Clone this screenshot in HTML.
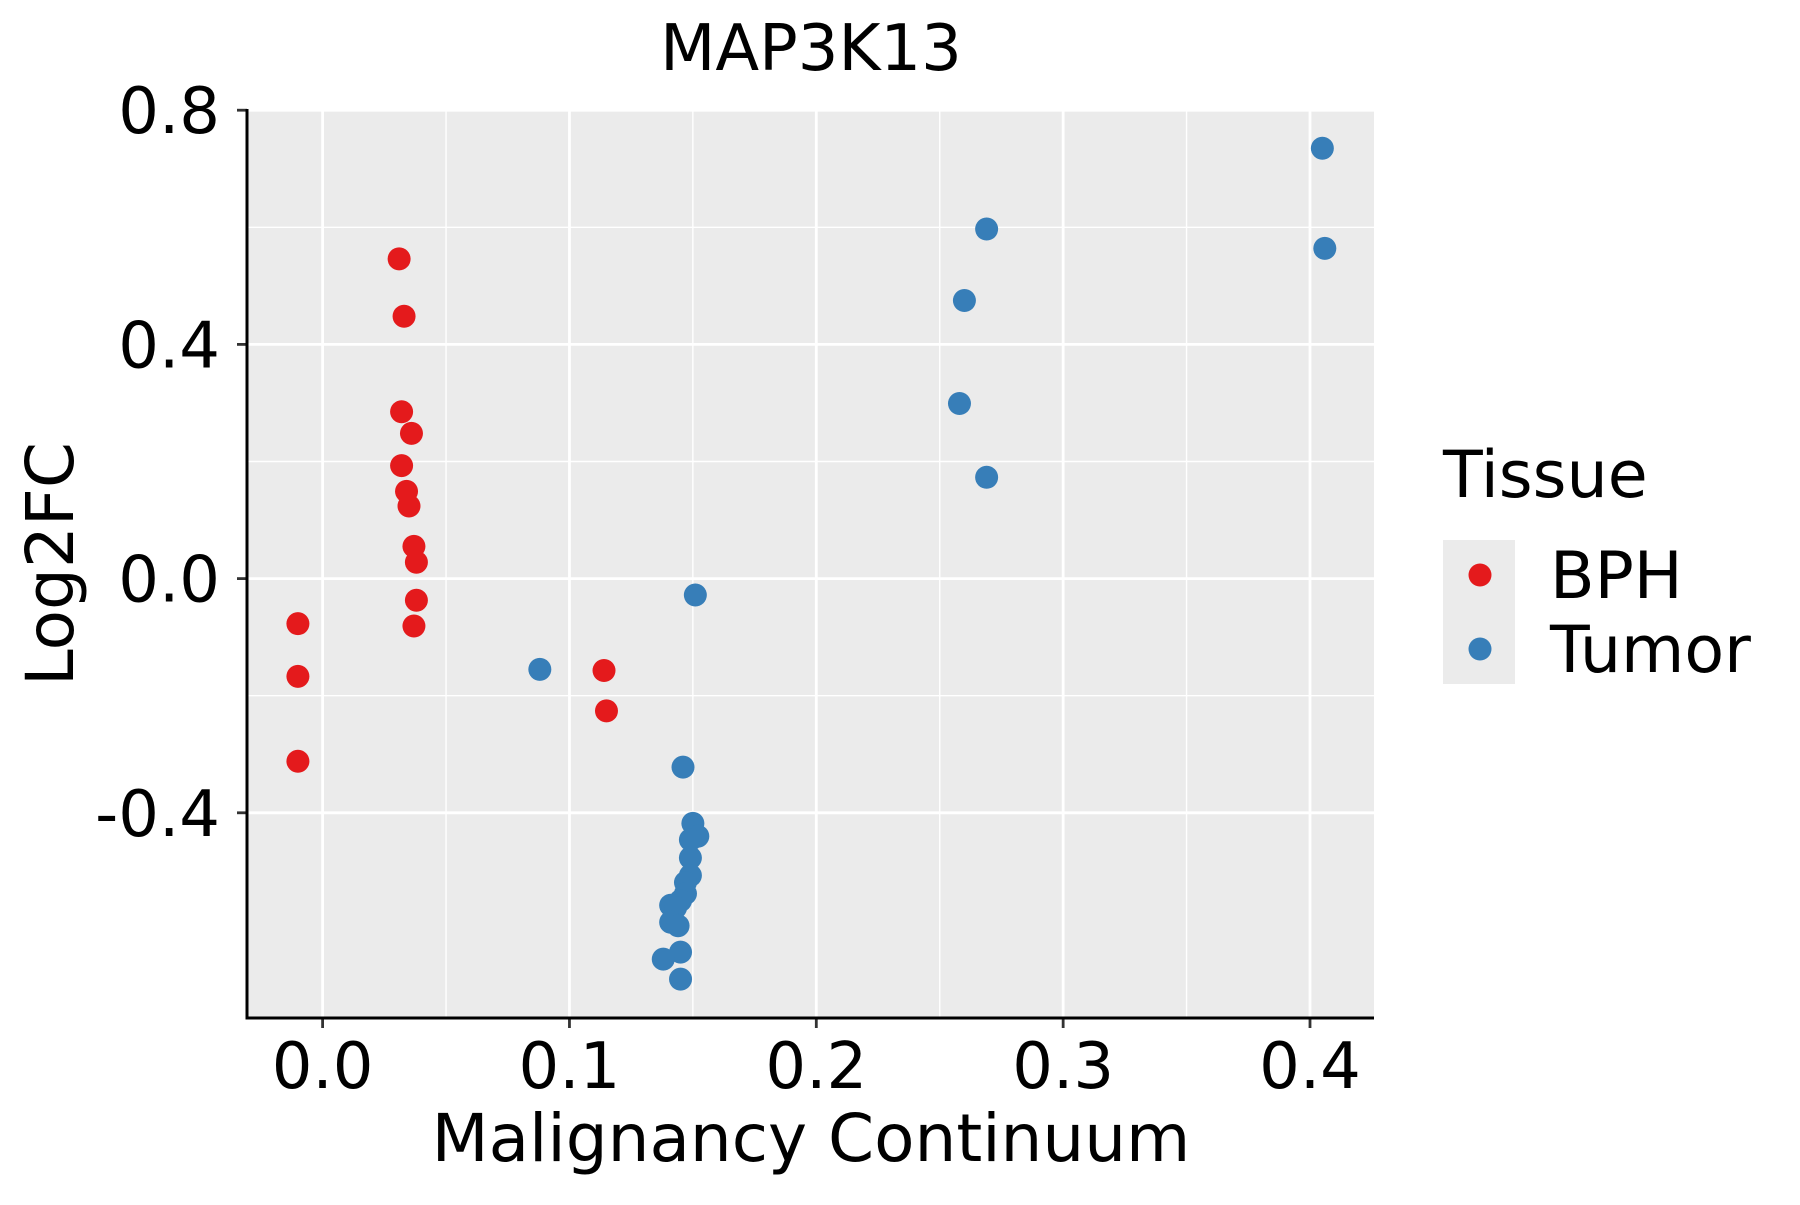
<!DOCTYPE html>
<html><head><meta charset="utf-8"><style>
body{margin:0;background:#fff}
svg text{font-family:"DejaVu Sans","Liberation Sans",sans-serif;fill:#000}
</style></head><body>
<svg id="chart" width="1800" height="1200" xmlns="http://www.w3.org/2000/svg">
<rect x="247" y="109" width="1127" height="909" fill="#ebebeb"/>
<g id="grid"></g><g id="pts"></g><g id="axes"></g>
<text x="811" y="70" font-size="64" text-anchor="middle">MAP3K13</text>
<text x="811" y="1161" font-size="66" text-anchor="middle">Malignancy Continuum</text>
<text transform="translate(73,564) rotate(-90)" font-size="66" text-anchor="middle">Log2FC</text>
<g>
<text x="1443" y="497" font-size="65">Tissue</text>
<rect x="1443" y="540" width="72" height="144" fill="#ebebeb"/>
<circle cx="1480" cy="575" r="11.5" fill="#e41a1c"/>
<circle cx="1480" cy="649" r="11.5" fill="#377eb8"/>
<text x="1550" y="598" font-size="65">BPH</text>
<text x="1550" y="672" font-size="65">Tumor</text>
</g>
</svg>
<script>
const xTicks=[0.0,0.1,0.2,0.3,0.4];
const xTickLabels=["0.0","0.1","0.2","0.3","0.4"];
const yTicks=[-0.4,0.0,0.4,0.8];
const yTickLabels=["-0.4","0.0","0.4","0.8"];
const bphX=[0.031,0.033,0.032,0.036,0.032,0.034,0.035,0.037,0.038,0.038,0.037,-0.010,-0.010,-0.010,0.114,0.115];
const bphY=[0.546,0.448,0.285,0.248,0.193,0.149,0.124,0.055,0.028,-0.037,-0.081,-0.077,-0.167,-0.312,-0.157,-0.226];
const tumorX=[0.405,0.406,0.269,0.260,0.258,0.269,0.151,0.088,0.146,0.150,0.152,0.149,0.149,0.149,0.147,0.147,0.145,0.141,0.143,0.141,0.144,0.145,0.138,0.145];
const tumorY=[0.735,0.564,0.597,0.475,0.299,0.173,-0.028,-0.155,-0.322,-0.418,-0.440,-0.446,-0.477,-0.507,-0.519,-0.538,-0.550,-0.558,-0.562,-0.587,-0.593,-0.638,-0.650,-0.684];
const NS="http://www.w3.org/2000/svg";
const L=247,R=1374,T=109,B=1018;
function sx(v){return 322.6+2468.5*v;}
function sy(v){return 578.6-585.5*v;}
function mk(tag,attrs,parent){const e=document.createElementNS(NS,tag);for(const k in attrs)e.setAttribute(k,attrs[k]);parent.appendChild(e);return e;}
const grid=document.getElementById('grid'),axes=document.getElementById('axes'),pts=document.getElementById('pts');
for(let i=0;i<xTicks.length;i++){
  const x=sx(xTicks[i]);
  const g=mk('line',{x1:x,x2:x,y1:T,y2:B,stroke:'#fff','stroke-width':2.8},grid);
  
  
  if(i<xTicks.length-1){const m=sx((xTicks[i]+xTicks[i+1])/2);
    const gm=mk('line',{x1:m,x2:m,y1:T,y2:B,stroke:'#fff','stroke-width':1.4},grid);
    
    }
  const t=mk('line',{x1:x,x2:x,y1:B,y2:B+10,stroke:'#333','stroke-width':2.8},axes);
  
  
  const lb=mk('text',{x:x,y:1088,'font-size':64,'text-anchor':'middle'},axes);
  lb.textContent=xTickLabels[i];
  
  
}
for(let i=0;i<yTicks.length;i++){
  const y=sy(yTicks[i]);
  const g=mk('line',{x1:L,x2:R,y1:y,y2:y,stroke:'#fff','stroke-width':2.8},grid);
  
  
  if(i<yTicks.length-1){const m=sy((yTicks[i]+yTicks[i+1])/2);
    const gm=mk('line',{x1:L,x2:R,y1:m,y2:m,stroke:'#fff','stroke-width':1.4},grid);
    
    }
  const t=mk('line',{x1:L-10,x2:L,y1:y,y2:y,stroke:'#333','stroke-width':2.8},axes);
  
  
  const lb=mk('text',{x:220,y:y+23,'font-size':64,'text-anchor':'end'},axes);
  lb.textContent=yTickLabels[i];
  
  
}
const xa=mk('line',{x1:L,x2:R,y1:B,y2:B,stroke:'#000','stroke-width':3},axes);


const ya=mk('line',{x1:L,x2:L,y1:T,y2:B+1.5,stroke:'#000','stroke-width':3},axes);


for(let i=0;i<bphX.length;i++){
  const c=mk('circle',{cx:sx(bphX[i]),cy:sy(bphY[i]),r:11.5,fill:'#e41a1c'},pts);
  
  
}
for(let i=0;i<tumorX.length;i++){
  const c=mk('circle',{cx:sx(tumorX[i]),cy:sy(tumorY[i]),r:11.5,fill:'#377eb8'},pts);
  
  
}
</script>
</body></html>
